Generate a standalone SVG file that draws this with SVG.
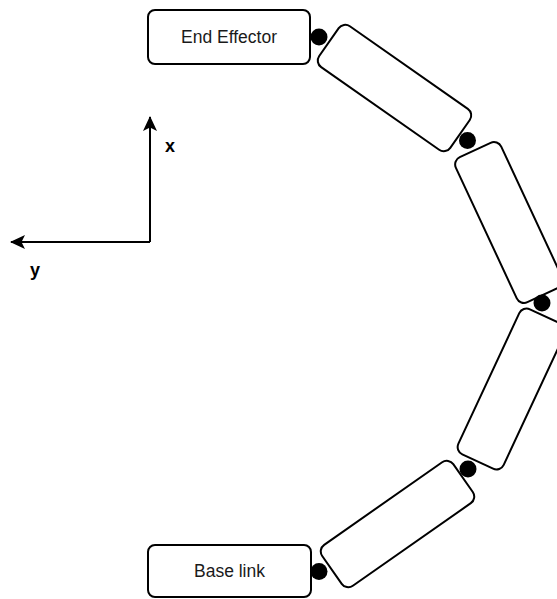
<svg xmlns="http://www.w3.org/2000/svg" width="557" height="599" viewBox="0 0 557 599">
<style>
.box{fill:#fff;stroke:#000;stroke-width:2}
.lbl{font-family:"Liberation Sans",Arial,sans-serif;font-size:17.5px;fill:#1a1a1a;text-anchor:middle;dominant-baseline:central}
.ax{font-family:"Liberation Sans",Arial,sans-serif;font-size:18px;font-weight:bold;fill:#000;text-anchor:middle;dominant-baseline:central}
.joint{fill:#000}
.conn{fill:none;stroke:#000;stroke-width:2}
</style>
<defs>
<marker id="arr" viewBox="0 0 15 14" refX="14" refY="7" markerWidth="15" markerHeight="14" markerUnits="userSpaceOnUse" orient="auto">
<path d="M0,0 L15,7 L0,14 L3.5,7 Z" fill="#000"/>
</marker>
</defs>
<g id="connectors">
<path class="conn" d="M150,242 L150,117" marker-end="url(#arr)"/>
<path class="conn" d="M150,242 L11,242" marker-end="url(#arr)"/>
</g>
<text class="ax" x="170" y="146">x</text>
<text class="ax" x="35" y="270">y</text>
<g id="end-effector">
<rect class="box" x="148" y="10" width="162" height="54" rx="7"/>
<text class="lbl" x="229" y="37">End Effector</text>
</g>
<g id="base-link">
<rect class="box" x="148" y="545" width="163" height="52" rx="7"/>
<text class="lbl" x="229.5" y="571">Base link</text>
</g>
<g id="link1">
<rect class="box" x="-80" y="-25" width="160" height="50" rx="8" transform="translate(394.5,88) rotate(35)"/>
</g>
<g id="link2">
<rect class="box" x="-80" y="-25" width="160" height="50" rx="8" transform="translate(509,222.5) rotate(65)"/>
</g>
<g id="link3">
<rect class="box" x="-80" y="-25" width="160" height="50" rx="8" transform="translate(511.5,389) rotate(-65)"/>
</g>
<g id="link4">
<rect class="box" x="-80" y="-25" width="160" height="50" rx="8" transform="translate(397.5,524) rotate(-35)"/>
</g>
<g id="joint1"><circle class="joint" cx="319" cy="37" r="8.5"/></g>
<g id="joint2"><circle class="joint" cx="467.5" cy="140.5" r="8.5"/></g>
<g id="joint3"><circle class="joint" cx="542" cy="303" r="8.5"/></g>
<g id="joint4"><circle class="joint" cx="468" cy="469" r="8.5"/></g>
<g id="joint5"><circle class="joint" cx="319" cy="571.5" r="8.5"/></g>
</svg>
